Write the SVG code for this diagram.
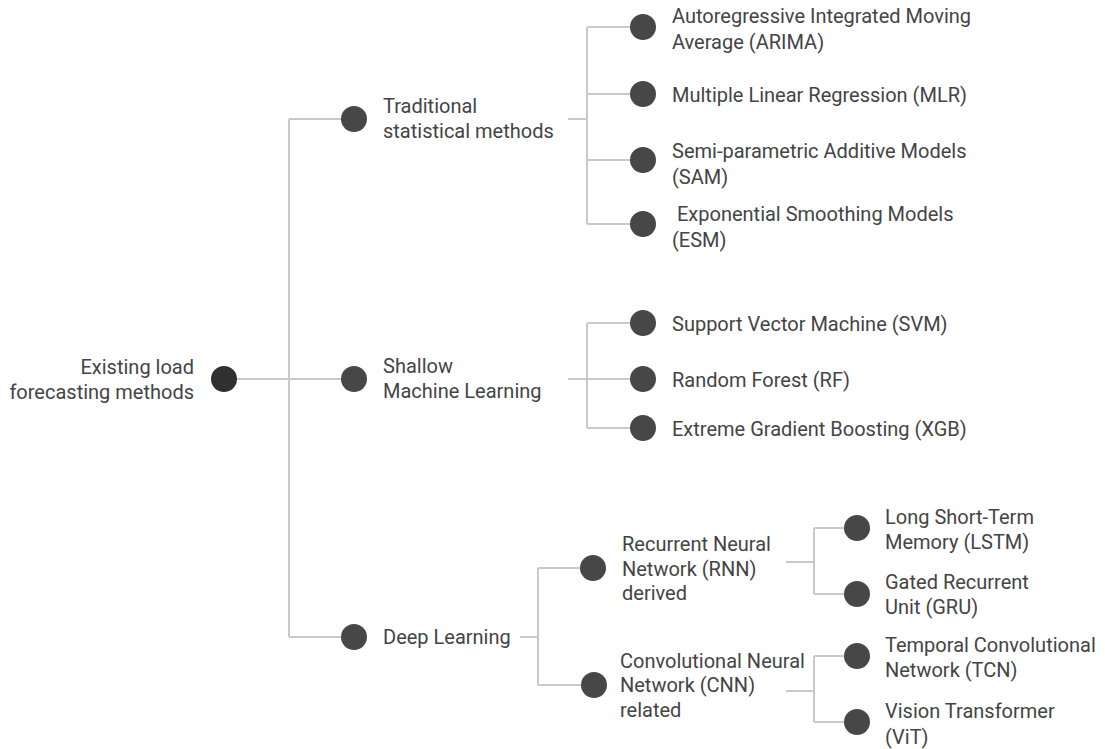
<svg xmlns="http://www.w3.org/2000/svg" width="1105" height="749" viewBox="0 0 1105 749">
  <style>
    .bg { fill: #ffffff; }
    .edge { fill: none; stroke: #c9c9c9; stroke-width: 2; }
    .dot { fill: #474747; }
    .dot-root { fill: #303030; }
    .label { font-family: Roboto, "Liberation Sans", sans-serif; font-size: 20px; fill: #444444; }
    .end { text-anchor: end; }
  </style>
  <rect class="bg" x="0" y="0" width="1105" height="749"/>

  <!-- connectors -->
  <g id="connectors">
    <!-- root to first level -->
    <path class="edge" d="M224 379 H354 M289 119 V637 M289 119 H354 M289 637 H354"/>
    <!-- traditional statistical methods -->
    <path class="edge" d="M568 119 H587 M587 27 V224 M587 27 H643 M587 94 H643 M587 160 H643 M587 224 H643"/>
    <!-- shallow machine learning -->
    <path class="edge" d="M568 379 H587 M587 323 V428 M587 323 H643 M587 379 H643 M587 428 H643"/>
    <!-- deep learning -->
    <path class="edge" d="M520 637 H538 M538 568 V685 M538 568 H593 M538 685 H593"/>
    <!-- RNN derived -->
    <path class="edge" d="M786 562 H814 M814 528 V594 M814 528 H857 M814 594 H857"/>
    <!-- CNN related -->
    <path class="edge" d="M786 691 H814 M814 656 V722 M814 656 H857 M814 722 H857"/>
  </g>

  <!-- root -->
  <g id="node-root">
    <circle class="dot-root" cx="224" cy="379" r="13"/>
    <text class="label end" x="194" y="374">Existing load</text>
    <text class="label end" x="194" y="399">forecasting methods</text>
  </g>

  <!-- first level -->
  <g id="node-traditional">
    <circle class="dot" cx="354" cy="119" r="13"/>
    <text class="label" x="383" y="113">Traditional</text>
    <text class="label" x="383" y="138">statistical methods</text>
  </g>
  <g id="node-shallow">
    <circle class="dot" cx="354" cy="379" r="13"/>
    <text class="label" x="383" y="373">Shallow</text>
    <text class="label" x="383" y="398">Machine Learning</text>
  </g>
  <g id="node-deep">
    <circle class="dot" cx="354" cy="637" r="13"/>
    <text class="label" x="383" y="644">Deep Learning</text>
  </g>

  <!-- traditional statistical methods -->
  <g id="node-arima">
    <circle class="dot" cx="643" cy="27" r="13"/>
    <text class="label" x="672" y="23">Autoregressive Integrated Moving</text>
    <text class="label" x="672" y="49">Average (ARIMA)</text>
  </g>
  <g id="node-mlr">
    <circle class="dot" cx="643" cy="94" r="13"/>
    <text class="label" x="672" y="102">Multiple Linear Regression (MLR)</text>
  </g>
  <g id="node-sam">
    <circle class="dot" cx="643" cy="160" r="13"/>
    <text class="label" x="672" y="158">Semi-parametric Additive Models</text>
    <text class="label" x="672" y="184">(SAM)</text>
  </g>
  <g id="node-esm">
    <circle class="dot" cx="643" cy="224" r="13"/>
    <text class="label" x="672" y="221" xml:space="preserve"> Exponential Smoothing Models</text>
    <text class="label" x="672" y="247">(ESM)</text>
  </g>

  <!-- shallow machine learning -->
  <g id="node-svm">
    <circle class="dot" cx="643" cy="323" r="13"/>
    <text class="label" x="672" y="331">Support Vector Machine (SVM)</text>
  </g>
  <g id="node-rf">
    <circle class="dot" cx="643" cy="379" r="13"/>
    <text class="label" x="672" y="387">Random Forest (RF)</text>
  </g>
  <g id="node-xgb">
    <circle class="dot" cx="643" cy="428" r="13"/>
    <text class="label" x="672" y="436">Extreme Gradient Boosting (XGB)</text>
  </g>

  <!-- deep learning -->
  <g id="node-rnn">
    <circle class="dot" cx="593" cy="568" r="13"/>
    <text class="label" x="622" y="551">Recurrent Neural</text>
    <text class="label" x="622" y="576">Network (RNN)</text>
    <text class="label" x="622" y="600">derived</text>
  </g>
  <g id="node-cnn">
    <circle class="dot" cx="594" cy="685" r="13"/>
    <text class="label" x="620" y="668">Convolutional Neural</text>
    <text class="label" x="620" y="692">Network (CNN)</text>
    <text class="label" x="620" y="717">related</text>
  </g>
  <g id="node-lstm">
    <circle class="dot" cx="857" cy="528" r="13"/>
    <text class="label" x="885" y="524">Long Short-Term</text>
    <text class="label" x="885" y="549">Memory (LSTM)</text>
  </g>
  <g id="node-gru">
    <circle class="dot" cx="857" cy="594" r="13"/>
    <text class="label" x="885" y="589">Gated Recurrent</text>
    <text class="label" x="885" y="614">Unit (GRU)</text>
  </g>
  <g id="node-tcn">
    <circle class="dot" cx="857" cy="656" r="13"/>
    <text class="label" x="885" y="652">Temporal Convolutional</text>
    <text class="label" x="885" y="677">Network (TCN)</text>
  </g>
  <g id="node-vit">
    <circle class="dot" cx="857" cy="722" r="13"/>
    <text class="label" x="885" y="718">Vision Transformer</text>
    <text class="label" x="885" y="744">(ViT)</text>
  </g>
</svg>
